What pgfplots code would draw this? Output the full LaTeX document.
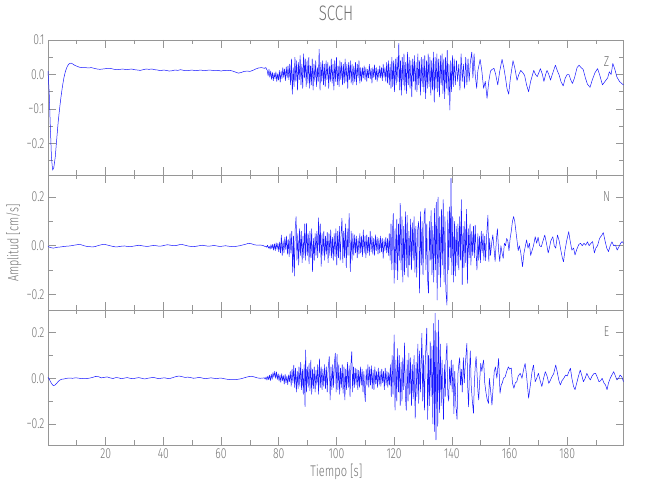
\documentclass[border=0pt]{standalone}
\usepackage{fontspec}
\setmainfont{Fira Sans Light}[FakeStretch=0.72]
\usepackage{pgfplots}
\pgfplotsset{compat=1.18}
\definecolor{txt}{RGB}{115,115,115}
\definecolor{axc}{RGB}{150,150,150}
\definecolor{trace}{RGB}{25,25,255}
\tikzset{lab/.style={font=\fontsize{14.5}{14.5}\selectfont, text=txt}}
\pgfplotsset{
  seis/.style={scale only axis, width=575.5bp, height=135bp, xmin=0, xmax=199.5,
    axis line style={axc, line width=0.7bp}, tick style={axc, line width=0.7bp},
    major tick length=8bp, minor tick length=4.5bp,
    xtick={20,40,...,180}, minor xtick={10,30,...,190},
    tick label style={font=\fontsize{14.5}{14.5}\selectfont, text=txt},
    xticklabels={}, clip=true,
  },
  tr/.style={trace, line width=0.5bp, line join=round, mark=none},
}
\begin{document}
\begin{tikzpicture}
\useasboundingbox (0,0) rectangle (650bp,500bp);
% ---------- Z ----------
\begin{axis}[seis, at={(48bp,460bp)}, anchor=north west, ymin=-0.291, ymax=0.1,
  ytick={-0.2,-0.1,0,0.1}, yticklabels={−0.2,−0.1,0.0,0.1},
  minor ytick={-0.25,-0.15,-0.05,0.05}]
\addplot[tr] coordinates {
(0,0.01)(0.4,-0.05)(0.8,-0.15)(1.2,-0.24)(1.6,-0.277)(2.0,-0.27)(2.5,-0.24)(3,-0.19)(3.5,-0.14)(4,-0.10)(4.5,-0.065)(5,-0.035)(5.5,-0.01)(6,0.008)(6.5,0.02)(7,0.028)(7.5,0.032)(8,0.033)(8.5,0.031)(9,0.028)(10,0.024)(11,0.021)(12,0.02)(13,0.02)(14,0.019)(15,0.02)(16,0.018)(17,0.016)(18,0.015)(19,0.016)(20,0.017)(21,0.018)(22,0.017)(23,0.015)(24,0.014)(25,0.015)(26,0.016)(27,0.014)(28,0.015)(29,0.016)(30,0.014)(31,0.013)(32,0.012)(33,0.014)(34,0.016)(35,0.015)(36,0.016)(37,0.014)(38,0.013)(39,0.011)(40,0.013)(41,0.012)(42,0.01)(43,0.011)(44,0.013)(45,0.012)(46,0.014)(47,0.012)(48,0.011)(49,0.012)(50,0.013)(51,0.011)(52,0.012)(53,0.013)(54,0.011)(55,0.012)(56,0.013)(57,0.012)(58,0.011)(59,0.012)(60,0.01)(61,0.012)(62,0.011)(63,0.012)(64,0.01)(65,0.007)(66,0.004)(67,0.006)(68,0.009)(69,0.01)(70,0.009)(71,0.012)(72,0.016)(73,0.019)(74,0.02)(75,0.018)(75.5,0.02)
(76.0,0.012)(76.3,-0.004)(76.6,0.015)(76.9,-0.008)(77.2,0.010)(77.5,-0.014)(77.8,0.006)(78.1,-0.018)(78.4,0.004)(78.7,-0.012)
(79.0,0.008)(79.3,-0.02)(79.6,0.002)(79.9,-0.016)(80.2,0.012)(80.5,-0.022)(80.8,0.01)(81.1,-0.012)(81.4,0.02)(81.7,-0.008)
(82.0,0.016)(82.3,-0.018)(82.6,0.022)(82.9,-0.01)(83.2,0.025)(83.5,-0.015)(83.8,0.03)(84.1,-0.03)(84.4,0.045)(84.7,-0.057)
(85.0,0.02)(85.3,-0.035)(85.6,0.05)(85.9,-0.02)(86.2,0.04)(86.5,-0.045)(86.8,0.035)(87.1,-0.015)(87.4,0.055)(87.7,-0.03)
(88.0,0.03)(88.3,-0.04)(88.6,0.06)(88.9,-0.01)(89.2,0.045)(89.5,-0.035)(89.8,0.04)(90.1,-0.025)(90.4,0.05)(90.7,-0.04)
(91.0,0.025)(91.3,-0.03)(91.6,0.045)(91.9,-0.045)(92.2,0.03)(92.5,-0.02)(92.8,0.04)(93.1,-0.035)(93.4,0.02)(93.7,-0.02)
(94.0,0.073)(94.3,-0.045)(94.6,0.035)(94.9,-0.02)(95.2,0.04)(95.5,-0.03)(95.8,0.03)(96.1,-0.035)(96.4,0.04)(96.7,-0.015)
(97.0,0.035)(97.3,-0.04)(97.6,0.025)(97.9,-0.02)(98.2,0.045)(98.5,-0.025)(98.8,0.03)(99.1,-0.045)(99.4,0.04)(99.7,-0.02)
(100.0,0.05)(100.3,-0.03)(100.6,0.025)(100.9,-0.035)(101.2,0.04)(101.5,-0.015)(101.8,0.035)(102.1,-0.03)(102.4,0.03)(102.7,-0.025)
(103.0,0.045)(103.3,-0.02)(103.6,0.03)(103.9,-0.04)(104.2,0.035)(104.5,-0.015)(104.8,0.04)(105.1,-0.025)(105.4,0.03)(105.7,-0.03)
(106.0,0.025)(106.3,-0.02)(106.6,0.035)(106.9,-0.03)(107.2,0.03)(107.5,-0.01)(107.8,0.04)(108.1,-0.025)(108.4,0.02)(108.7,-0.02)
(109.0,0.02)(109.3,-0.01)(109.6,0.025)(109.9,-0.015)(110.2,0.02)(110.5,-0.02)(110.8,0.015)(111.1,-0.01)(111.4,0.03)(111.7,-0.012)
(112.0,0.018)(112.3,-0.025)(112.6,0.02)(112.9,-0.008)(113.2,0.028)(113.5,-0.015)(113.8,0.02)(114.1,-0.02)(114.4,0.015)(114.7,-0.01)
(115.0,0.025)(115.3,-0.01)(115.6,0.02)(115.9,-0.018)(116.2,0.03)(116.5,-0.008)(116.8,0.02)(117.1,-0.02)(117.4,0.035)(117.7,-0.025)
(118.0,0.04)(118.3,-0.03)(118.6,0.03)(118.9,-0.04)(119.2,0.05)(119.5,-0.035)(119.8,0.04)(120.1,-0.05)(120.4,0.045)(120.7,-0.03)
(121.0,0.05)(121.3,-0.02)(121.6,0.09)(121.9,-0.045)(122.2,0.04)(122.5,-0.06)(122.8,0.05)(123.1,-0.03)(123.4,0.06)(123.7,-0.045)
(124.0,0.035)(124.3,-0.055)(124.6,0.065)(124.9,-0.03)(125.2,0.05)(125.5,-0.04)(125.8,0.04)(126.1,-0.065)(126.4,0.045)(126.7,-0.02)
(127.0,0.055)(127.3,-0.045)(127.6,0.035)(127.9,-0.05)(128.2,0.06)(128.5,-0.03)(128.8,0.04)(129.1,-0.06)(129.4,0.05)(129.7,-0.035)
(130.0,0.045)(130.3,-0.05)(130.6,0.055)(130.9,-0.07)(131.2,0.04)(131.5,-0.04)(131.8,0.06)(132.1,-0.035)(132.4,0.05)(132.7,-0.06)
(133.0,0.04)(133.3,-0.045)(133.6,0.065)(133.9,-0.08)(134.2,0.05)(134.5,-0.04)(134.8,0.06)(135.1,-0.05)(135.4,0.045)(135.7,-0.065)
(136.0,0.055)(136.3,-0.03)(136.6,0.06)(136.9,-0.055)(137.2,0.045)(137.5,-0.07)(137.8,0.05)(138.1,-0.04)(138.4,0.07)(138.7,-0.06)
(139.0,0.03)(139.3,-0.103)(139.6,0.04)(139.9,-0.05)(140.2,0.055)(140.5,-0.035)(140.8,0.045)
(141.2,-0.03)(141.6,0.04)(142.0,-0.02)(142.4,0.03)(142.8,-0.045)(143.2,0.06)(143.6,-0.02)(144.0,0.03)(144.4,-0.04)(144.8,0.05)(145.2,-0.03)(145.6,0.045)(146.0,-0.02)(146.4,0.035)(146.9,0.065)(147.3,-0.01)(147.7,0.06)(148.1,0.0)(148.6,-0.04)(149.0,0.01)(149.8,0.044)(150.4,0.01)(151.0,-0.04)(151.6,-0.02)(152.2,-0.069)(152.8,-0.02)(153.4,0.01)(154.0,0.015)(154.6,0.018)(155.2,0.0)(155.9,-0.03)(156.6,0.01)(157.4,0.044)(158.0,0.02)(158.6,-0.01)(159.1,-0.04)(159.7,-0.057)(160.3,-0.01)(161.2,0.04)(161.8,0.02)(162.6,-0.017)(163.2,0.0)(163.9,0.012)(164.6,0.005)(165.2,-0.002)(165.9,-0.03)(166.6,-0.05)(167.3,-0.02)(168.4,0.012)(169.0,0.0)(169.6,-0.006)(170.7,0.017)(171.4,0.0)(171.9,-0.02)(172.5,0.0)(173.0,0.012)(173.6,0.0)(174.2,-0.016)(174.8,0.0)(175.9,0.027)(176.6,0.01)(177.2,-0.0015)(177.8,-0.02)(178.6,-0.033)(179.3,-0.01)(180.0,0.0)(180.6,0.0)(181.2,-0.015)(181.8,-0.026)(182.5,-0.01)(183.4,0.02)(184.1,0.027)(184.8,0.02)(185.5,0.015)(186.3,-0.01)(187.0,-0.028)(187.9,-0.037)(188.7,-0.015)(189.6,0.005)(190.5,0.017)(191.2,0.0)(192.2,-0.03)(193.1,-0.02)(194.0,-0.01)(194.6,0.008)(195.2,0.0)(195.8,0.032)(196.5,0.015)(197.2,-0.007)(198.1,-0.02)(199.0,-0.027)(199.5,-0.03)
};
\node[lab] at (rel axis cs:0.9705,0.844) {Z};
\end{axis}
% ---------- N ----------
\begin{axis}[seis, at={(48bp,325bp)}, anchor=north west, ymin=-0.265, ymax=0.2915,
  ytick={-0.2,0,0.2}, yticklabels={−0.2,0.0,0.2},
  minor ytick={-0.1,0.1}]
\addplot[tr] coordinates {
(0,-0.003)(0.5,-0.006)(1,-0.008)(1.8,-0.01)(2.6,-0.008)(3.5,-0.006)(4.5,-0.005)(5.5,-0.003)(6.5,-0.002)(7.5,-0.001)(8.5,0.001)(9.5,0.003)(10.5,0.005)(11.5,0.004)(12.5,0.0)(13.5,-0.003)(14.5,-0.004)(15.5,-0.005)(16.5,-0.003)(17.5,0.001)(18.5,0.004)(19.5,0.006)(20.5,0.003)(21.5,0.0)(22.5,-0.003)(23.5,-0.005)(24.5,-0.004)(25.5,-0.002)(26.5,-0.001)(27.5,-0.003)(28.5,-0.004)(29.5,-0.002)(30.5,0.0)(31.5,0.002)(32.5,0.0)(33.5,-0.002)(34.5,-0.003)(35.5,-0.001)(36.5,0.001)(37.5,0.0)(38.5,-0.002)(39.5,-0.001)(40.5,0.002)(41.5,0.004)(42.5,0.002)(43.5,0.0)(44.5,0.001)(45.5,0.004)(46.5,0.005)(47.5,0.002)(48.5,-0.001)(49.5,-0.003)(50.5,-0.004)(51.5,-0.002)(52.5,0.0)(53.5,0.002)(54.5,0.0)(55.5,-0.002)(56.5,-0.001)(57.5,0.001)(58.5,-0.001)(59.5,-0.003)(60.5,-0.002)(61.5,0.0)(62.5,-0.002)(63.5,-0.003)(64.5,-0.004)(65.5,-0.002)(66.5,0.0)(67.5,0.003)(68.5,0.006)(69.5,0.01)(70.5,0.008)(71.5,0.004)(72.5,0.002)(73.5,0.003)(74.5,0.001)(75.2,-0.003)
(75.5,-0.002)(75.8,-0.006)(76.1,0.002)(76.4,-0.01)(76.7,-0.003)(77.0,-0.014)(77.3,0.004)(77.6,-0.012)(77.9,0.006)(78.2,-0.018)
(78.5,0.008)(78.8,-0.02)(79.1,0.012)(79.4,-0.015)(79.7,0.01)(80.0,-0.025)(80.3,0.015)(80.6,-0.03)(80.9,0.044)(81.2,-0.04)
(81.5,0.02)(81.8,-0.03)(82.1,0.035)(82.4,-0.015)(82.7,0.04)(83.0,-0.035)(83.3,0.025)(83.6,-0.045)(83.9,0.05)(84.2,-0.03)
(84.5,0.06)(84.8,-0.11)(85.1,0.04)(85.4,-0.125)(85.7,0.07)(86.0,0.12)(86.3,-0.06)(86.6,0.05)(86.9,-0.08)(87.2,0.07)
(87.5,-0.04)(87.8,0.06)(88.1,-0.07)(88.4,0.04)(88.7,-0.05)(89.0,0.09)(89.3,-0.06)(89.6,0.092)(89.9,-0.04)(90.2,0.05)
(90.5,-0.075)(90.8,0.06)(91.1,-0.05)(91.4,0.07)(91.7,-0.107)(92.0,0.03)(92.3,-0.06)(92.6,0.05)(92.9,-0.04)(93.2,0.06)
(93.5,-0.05)(93.8,0.115)(94.1,-0.03)(94.4,0.09)(94.7,-0.085)(95.0,0.05)(95.3,-0.04)(95.6,0.06)(95.9,-0.06)(96.2,0.04)
(96.5,-0.035)(96.8,0.055)(97.1,-0.07)(97.4,0.05)(97.7,-0.04)(98.0,0.065)(98.3,-0.05)(98.6,0.035)(98.9,-0.06)(99.2,0.05)
(99.5,-0.045)(99.8,0.07)(100.1,-0.08)(100.4,0.06)(100.7,-0.05)(101.0,0.08)(101.3,-0.06)(101.6,0.05)(101.9,0.113)(102.2,-0.07)
(102.5,0.06)(102.8,-0.05)(103.1,0.09)(103.4,-0.09)(103.7,0.07)(104.0,-0.04)(104.4,0.133)(104.8,-0.107)(105.1,0.06)(105.4,-0.06)
(105.7,0.05)(106.0,-0.04)(106.3,0.045)(106.6,-0.03)(106.9,0.04)(107.2,-0.05)(107.5,0.03)(107.8,-0.035)(108.1,0.05)(108.4,-0.03)
(108.7,0.04)(109.0,-0.045)(109.3,0.065)(109.6,-0.03)(109.9,0.04)(110.2,-0.05)(110.5,0.045)(110.8,-0.03)(111.1,0.035)(111.4,-0.04)
(111.7,0.06)(112.0,-0.025)(112.3,0.04)(112.6,-0.035)(112.9,0.03)(113.2,-0.04)(113.5,0.045)(113.8,-0.02)(114.1,0.035)(114.4,-0.035)
(114.7,0.03)(115.0,-0.03)(115.3,0.04)(115.6,-0.025)(115.9,0.03)(116.2,-0.052)(116.5,0.025)(116.8,-0.02)(117.1,0.035)(117.4,-0.03)
(117.7,0.03)(118.0,-0.04)(118.3,0.05)(118.6,-0.06)(118.9,0.09)(119.2,-0.1)(119.5,0.08)(119.7,0.133)(120.0,-0.155)(120.3,0.07)
(120.6,-0.1)(120.9,0.11)(121.2,-0.14)(121.5,0.09)(121.8,-0.06)(122.1,0.175)(122.4,-0.1)(122.7,0.12)(123.0,-0.15)(123.3,0.08)
(123.6,-0.12)(123.9,0.14)(124.2,-0.09)(124.5,0.125)(124.8,-0.13)(125.1,0.06)(125.4,-0.08)(125.7,0.11)(126.0,-0.1)(126.3,0.095)
(126.6,-0.06)(126.9,0.12)(127.2,-0.11)(127.5,0.08)(127.8,-0.13)(128.1,0.06)(128.5,0.1)(128.8,-0.195)(129.1,0.14)(129.4,-0.08)
(129.7,0.1)(130.0,-0.12)(130.4,0.13)(130.7,0.154)(131.0,-0.1)(131.3,0.09)(131.6,-0.14)(131.9,-0.195)(132.2,0.1)(132.5,-0.06)
(132.8,0.145)(133.1,-0.12)(133.4,0.08)(133.7,-0.15)(134.0,0.154)(134.3,-0.1)(134.6,0.18)(134.9,-0.224)(135.2,0.2)(135.5,-0.12)
(135.8,0.12)(136.1,-0.17)(136.4,0.15)(136.7,-0.08)(137.0,0.19)(137.3,-0.15)(137.6,0.12)(137.9,-0.18)(138.3,-0.245)(138.6,0.14)
(138.9,-0.1)(139.2,0.16)(139.5,-0.05)(139.7,0.278)(140.0,-0.12)(140.3,0.12)(140.6,-0.15)(140.9,0.1)(141.2,-0.125)(141.5,0.08)
(141.8,-0.08)(142.1,0.09)(142.4,-0.1)(142.7,0.12)(143.0,-0.06)(143.3,0.19)(143.6,-0.16)(143.9,0.08)(144.2,-0.09)(144.5,0.1)(144.8,-0.07)(145.1,0.15)(145.4,-0.155)(145.7,0.07)(146.0,-0.05)(146.3,0.09)(146.6,-0.08)(146.9,0.06)(147.2,-0.04)(147.5,0.08)(147.8,-0.05)(148.1,0.085)(148.4,-0.03)(148.7,-0.1)(149.0,0.05)(149.3,-0.06)(149.6,0.04)(149.9,-0.07)(150.2,0.06)(150.5,-0.03)(150.8,0.05)(151.1,-0.06)(151.4,0.04)(151.7,-0.062)(152.0,0.03)(152.5,0.126)(152.8,-0.065)(153.1,0.03)(153.4,-0.04)(153.8,0.01)(154.2,0.045)(154.6,-0.01)(155.0,-0.065)(155.4,0.02)(155.8,0.07)(156.2,-0.02)(156.6,-0.065)(157.0,0.0)(157.4,-0.03)(157.8,-0.052)(158.2,0.01)(158.6,0.0)(159.0,0.03)(159.4,0.02)(159.8,-0.02)(160.2,0.03)(160.6,0.06)(161.0,0.1)(161.4,0.12)(161.8,0.1)(162.2,0.06)(162.6,0.02)(163.0,-0.02)(163.4,0.0)(163.9,-0.03)(164.5,-0.086)(165.0,-0.03)(165.5,0.0)(165.9,0.024)(166.4,-0.01)(166.9,0.01)(167.3,-0.04)(167.8,-0.02)(168.3,0.0)(168.9,0.037)(169.4,0.01)(169.9,0.035)(170.4,0.0)(171.0,-0.004)(171.6,0.02)(172.2,0.044)(172.8,0.01)(173.4,-0.03)(173.8,-0.01)(174.3,0.02)(175.0,0.037)(175.5,0.0)(176.0,-0.01)(176.6,0.044)(177.2,0.02)(177.8,-0.02)(178.3,-0.05)(178.7,-0.066)(179.2,-0.02)(179.8,0.02)(180.5,0.058)(181.0,0.02)(181.6,-0.018)(182.2,-0.01)(182.7,-0.038)(183.3,-0.015)(184.0,0.005)(184.6,0.01)(185.2,0.0)(185.8,0.01)(186.4,0.002)(187.0,0.016)(187.6,0.0)(188.2,0.01)(188.8,0.017)(189.4,-0.03)(189.9,-0.01)(190.5,0.0)(191.2,0.03)(192.0,0.044)(192.5,0.054)(193.1,0.02)(193.7,-0.01)(194.3,-0.024)(194.9,0.0)(195.5,0.016)(196.1,0.0)(196.7,0.003)(197.3,-0.018)(197.9,-0.005)(198.5,0.01)(199.0,0.017)(199.5,0.01)
};
\node[lab] at (rel axis cs:0.9705,0.844) {N};
\end{axis}
% ---------- E ----------
\begin{axis}[seis, at={(48bp,190bp)}, anchor=north west, ymin=-0.292, ymax=0.299,
  ytick={-0.2,0,0.2}, yticklabels={−0.2,0.0,0.2},
  minor ytick={-0.1,0.1},
  xticklabels={20,40,60,80,100,120,140,160,180}]
\addplot[tr] coordinates {
(0,0.004)(0.5,-0.005)(1,-0.018)(1.5,-0.028)(1.9,-0.032)(2.4,-0.03)(3,-0.022)(3.6,-0.013)(4.2,-0.007)(4.8,-0.004)(5.5,-0.003)(6.5,0.0)(7.5,0.001)(8.5,0.0)(9.5,0.002)(10.5,0.001)(11.5,-0.002)(12.5,0.0)(13.5,-0.001)(14.5,0.001)(15.5,0.004)(16.5,0.008)(17.5,0.007)(18.5,0.002)(19.5,0.004)(20.5,0.006)(21.5,0.002)(22.5,-0.001)(23.5,0.003)(24.5,0.002)(25.5,-0.002)(26.5,0.001)(27.5,0.003)(28.5,0.0)(29.5,-0.002)(30.5,0.001)(31.5,0.003)(32.5,0.0)(33.5,-0.003)(34.5,0.0)(35.5,0.002)(36.5,0.004)(37.5,0.001)(38.5,-0.002)(39.5,0.001)(40.5,0.002)(41.5,-0.001)(42.5,0.0)(43.5,0.004)(44.5,0.008)(45.5,0.01)(46.5,0.007)(47.5,0.004)(48.5,0.005)(49.5,0.003)(50.5,0.0)(51.5,0.002)(52.5,0.004)(53.5,0.001)(54.5,-0.002)(55.5,0.0)(56.5,0.002)(57.5,0.0)(58.5,-0.002)(59.5,0.001)(60.5,0.0)(61.5,-0.003)(62.5,-0.005)(63.5,-0.006)(64.5,-0.006)(65.5,-0.005)(66.5,-0.003)(67.5,0.0)(68.5,0.004)(69.5,0.007)(70.5,0.009)(71.5,0.006)(72.5,0.002)(73.5,0.0)(74.5,0.001)
(75.0,0.002)(75.3,-0.004)(75.6,0.006)(75.9,-0.008)(76.2,0.01)(76.5,-0.006)(76.8,0.014)(77.1,-0.01)(77.4,0.018)(77.7,-0.005)
(78.0,0.025)(78.3,0.005)(78.6,0.03)(78.9,0.0)(79.2,0.028)(79.5,-0.005)(79.8,0.02)(80.1,-0.012)(80.4,0.015)(80.7,-0.018)
(81.0,0.02)(81.3,-0.01)(81.6,0.012)(81.9,-0.025)(82.2,0.018)(82.5,-0.02)(82.8,0.01)(83.1,-0.028)(83.4,0.015)(83.7,-0.015)
(84.0,0.03)(84.3,-0.035)(84.6,0.04)(84.9,-0.02)(85.2,0.058)(85.5,-0.04)(85.8,0.045)(86.1,-0.06)(86.4,0.03)(86.7,-0.045)
(87.0,0.05)(87.3,-0.035)(87.6,0.07)(87.9,-0.05)(88.2,0.04)(88.5,-0.07)(88.8,0.06)(89.1,-0.124)(89.3,0.124)(89.6,-0.06)
(89.9,0.05)(90.2,-0.04)(90.5,0.065)(90.8,-0.055)(91.1,0.08)(91.4,-0.07)(91.7,0.04)(92.0,-0.045)(92.3,0.05)(92.6,-0.06)
(92.9,0.035)(93.2,-0.03)(93.5,0.06)(93.8,-0.07)(94.1,0.085)(94.4,-0.04)(94.7,0.05)(95.0,-0.05)(95.3,0.04)(95.6,-0.035)
(95.9,0.06)(96.2,-0.045)(96.5,0.05)(96.8,-0.06)(97.1,0.04)(97.5,0.095)(97.8,-0.095)(98.1,0.05)(98.4,-0.05)(98.7,0.06)
(99.0,-0.04)(99.3,0.07)(99.6,0.11)(99.9,-0.06)(100.2,0.105)(100.5,-0.05)(100.8,0.06)(101.1,-0.07)(101.4,0.045)(101.7,-0.04)
(102.0,0.06)(102.3,-0.065)(102.6,0.05)(102.9,-0.095)(103.2,0.04)(103.5,-0.05)(103.8,0.07)(104.1,-0.04)(104.4,0.055)(104.7,-0.08)
(105.0,0.06)(105.3,0.117)(105.6,-0.06)(105.9,0.05)(106.2,-0.04)(106.5,0.045)(106.8,-0.03)(107.1,0.04)(107.4,-0.05)(107.7,0.035)
(108.0,-0.04)(108.3,0.05)(108.6,-0.03)(108.9,0.04)(109.2,-0.06)(109.5,0.03)(109.8,-0.07)(110.0,-0.102)(110.3,0.04)(110.6,-0.03)
(110.9,0.06)(111.2,-0.04)(111.5,0.05)(111.8,-0.03)(112.1,0.055)(112.4,-0.045)(112.7,0.035)(113.0,-0.05)(113.3,0.05)(113.6,-0.025)
(113.9,0.03)(114.2,-0.04)(114.5,0.045)(114.8,-0.03)(115.1,0.03)(115.4,-0.035)(115.7,0.04)(116.0,-0.02)(116.3,0.03)(116.6,-0.05)
(116.9,0.045)(117.2,-0.03)(117.5,0.03)(117.8,-0.04)(118.1,0.025)(118.4,-0.03)(118.7,0.06)(119.0,-0.08)(119.3,0.1)(119.6,-0.07)
(120.0,0.19)(120.3,-0.139)(120.6,0.08)(120.9,-0.1)(121.2,0.13)(121.5,-0.06)(121.8,0.1)(122.1,-0.12)(122.4,0.07)(122.7,-0.1)
(123.0,0.09)(123.3,-0.05)(123.6,0.155)(123.9,-0.08)(124.2,-0.14)(124.5,0.08)(124.8,-0.1)(125.1,0.11)(125.4,-0.07)(125.7,0.09)
(126.0,-0.12)(126.3,0.06)(126.6,-0.09)(126.9,0.1)(127.3,-0.175)(127.6,0.07)(127.9,-0.08)(128.2,0.15)(128.5,-0.11)(128.8,0.12)
(129.1,-0.06)(129.6,0.197)(129.9,-0.1)(130.2,0.1)(130.5,-0.139)(130.8,0.08)(131.3,0.22)(131.6,-0.18)(131.9,0.1)(132.2,-0.12)
(132.5,0.16)(132.8,-0.08)(133.1,0.14)(133.4,-0.2)(133.7,0.24)(134.0,-0.233)(134.2,0.285)(134.5,-0.27)(134.8,0.2)(135.1,-0.21)
(135.4,0.255)(135.7,-0.15)(136.0,0.15)(136.3,-0.12)(136.6,0.08)(137.1,-0.18)(137.4,0.06)(137.7,-0.08)(138.0,0.1)(138.3,0.153)
(138.6,-0.07)(138.9,-0.1)(139.2,0.05)(139.5,-0.03)(139.8,0.08)(140.1,-0.06)(140.4,0.06)(140.7,-0.155)(141.0,0.03)(141.4,-0.12)
(141.8,-0.18)(142.1,0.02)(142.4,0.06)(142.7,0.09)(143.0,-0.03)(143.3,0.04)(143.6,-0.06)(144.0,0.09)(144.3,-0.02)(144.6,0.05)
(145.2,0.153)(145.5,-0.04)(145.8,-0.125)(146.1,0.03)(146.4,0.12)(146.7,-0.03)(147.1,-0.1)(147.5,-0.153)(147.8,-0.02)(148.1,0.05)
(148.4,0.095)(148.7,0.03)(149.0,-0.05)(149.3,-0.095)(149.7,0.0)(150.0,0.065)(150.4,0.03)(150.7,0.06)(151.0,0.08)(151.4,-0.02)
(151.8,-0.06)(152.2,-0.09)(152.7,-0.11)(153.0,0.0)(153.4,-0.05)(153.9,-0.117)(154.3,-0.04)(154.7,0.03)(155.1,0.05)(155.6,0.0)
(156.2,0.087)(156.7,-0.066)(157.1,-0.03)(157.5,-0.02)(157.9,0.0)(158.5,0.007)(159.0,0.03)(159.6,0.05)(160.0,0.04)(160.6,0.045)
(161.0,-0.02)(161.5,-0.044)(162.0,-0.02)(162.5,-0.015)(163.0,0.01)(163.7,0.022)(164.3,0.0)(164.9,0.04)(165.4,0.065)(165.9,0.01)
(166.6,-0.087)(167.2,-0.03)(167.8,0.03)(168.3,0.058)(168.9,-0.015)(169.4,0.0)(170.0,0.022)(170.6,-0.01)(171.2,-0.036)(171.8,0.0)
(172.4,0.029)(173.0,0.01)(173.6,-0.022)(174.1,-0.01)(174.7,0.007)(175.3,0.02)(176.0,0.058)(176.5,0.03)(177.1,-0.01)(177.6,-0.029)
(178.2,-0.01)(178.8,0.0)(179.4,0.014)(180.0,0.01)(180.6,0.03)(181.1,0.044)(181.6,0.0)(182.2,-0.036)(182.7,-0.05)(183.3,-0.02)
(183.9,0.01)(184.5,0.036)(185.1,0.01)(185.6,-0.015)(186.2,0.0)(186.8,0.022)(187.4,0.005)(188.0,-0.007)(188.6,0.01)(189.2,0.02)
(189.8,0.022)(190.4,0.005)(191.0,-0.015)(191.6,-0.01)(192.1,0.0)(192.7,-0.02)(193.3,-0.03)(193.8,-0.05)(194.3,-0.02)(194.9,0.0)
(195.5,0.015)(196.1,0.029)(196.7,0.01)(197.2,-0.007)(197.8,0.0)(198.3,0.014)(198.9,0.007)(199.5,-0.015)
};
\node[lab] at (rel axis cs:0.9705,0.84) {E};
\end{axis}
\node[text=txt, font=\fontsize{21}{21}\selectfont] at (336bp,487bp) {SCCH};
\node[text=txt, font=\fontsize{15}{15}\selectfont, rotate=90] at (14bp,257bp) {Amplitud [cm/s]};
\node[text=txt, font=\fontsize{15.5}{15.5}\selectfont] at (336.4bp,28.3bp) {Tiempo [s]};
\end{tikzpicture}
\end{document}
